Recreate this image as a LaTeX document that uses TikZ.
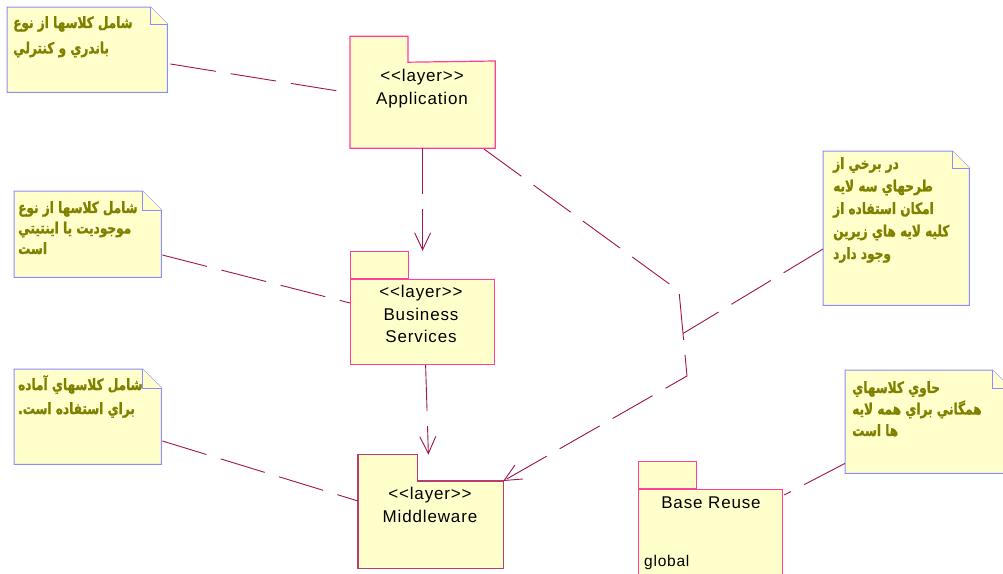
\documentclass[tikz,border=0pt]{standalone}
\usepackage{fontspec}
\setmainfont{Liberation Sans}[LetterSpace=5]
\newfontfamily\arabicfont[Script=Arabic,FakeStretch=0.78,BoldFont={DejaVu Sans Bold},BoldFeatures={FakeBold=1.2}]{DejaVu Sans}
\TeXXeTstate=1
\usetikzlibrary{arrows.meta,calc}
\definecolor{pkgfill}{RGB}{255,255,204}
\definecolor{pkgpink}{RGB}{255,64,150}
\definecolor{pkgdark}{RGB}{185,60,110}
\definecolor{linkcol}{RGB}{160,20,80}
\definecolor{noteblue}{RGB}{140,140,255}
\definecolor{noteolive}{RGB}{128,128,0}
\tikzset{
  pkgbox/.style={fill=pkgfill, draw=pkgpink, line width=1.2pt, inner sep=0pt, anchor=north west},
  pkgline/.style={fill=pkgfill, draw=pkgpink, line width=1.2pt},
  pkgtext/.style={font=\fontsize{17}{22.5}\selectfont, align=center, inner sep=0pt, text=black},
  notebox/.style={draw=none, inner sep=0pt, anchor=north west},
  noteline/.style={fill=pkgfill, draw=noteblue, line width=1pt},
  notetext/.style={font=\arabicfont\bfseries\fontsize{15.5}{22.5}\selectfont, align=left, inner sep=0pt, text=noteolive, anchor=north west},
  link/.style={draw=linkcol, line width=0.9pt, dash pattern=on 46pt off 15pt},
  dep/.style={link, -{Straight Barb[length=17pt,width=16pt,line width=0.9pt]}}
}
\newcommand\drawnote[2]{%
  \filldraw[noteline] (#1.north west) -- ([xshift=-#2pt]#1.north east) -- ([yshift=-#2pt]#1.north east) -- (#1.south east) -- (#1.south west) -- cycle;
  \draw[noteline] ([xshift=-#2pt]#1.north east) |- ([yshift=-#2pt]#1.north east);
}
\newcommand\stereo{<{}<layer>{}>}
\begin{document}
\begin{tikzpicture}[x=1pt,y=-1pt]
\useasboundingbox (0,0) rectangle (1003,573);
\clip (0,0) rectangle (1003,573);
\fill[white] (0,0) rectangle (1003,573);

% ---------- packages ----------
% Application
\node[pkgbox, draw=none, minimum width=144pt, minimum height=86pt] (app) at (350,61) {};
\draw[pkgline] (app.south west) -- ++(0,-112) -- ++(58,0) -- ++(0,26) -- (app.north east) -- (app.south east) -- cycle;
\node[pkgtext, anchor=base] (appt) at (422,104) {\stereo\\Application};

% Business Services
\node[pkgbox, minimum width=144pt, minimum height=85pt] (bs) at (350,279) {};
\node[pkgbox, anchor=south west, minimum width=58pt, minimum height=27pt] (bstab) at (bs.north west) {};
\node[pkgtext, anchor=base] (bst) at (421,342.5) {\stereo\\Business\\Services};

% Middleware
\node[pkgbox, draw=none, minimum width=144pt, minimum height=86pt] (mw) at (358,481) {};
\node[draw=none, inner sep=0pt, anchor=south west, minimum width=59pt, minimum height=26pt] (mwtab) at (mw.north west) {};
\draw[pkgline, draw=pkgdark] (mw.south west) -- (mwtab.north west) -- (mwtab.north east) -- (mwtab.south east) -- (mw.north east) -- (mw.south east) -- cycle;
\node[pkgtext, anchor=base] (mwt) at (430,522) {\stereo\\Middleware};

% Base Reuse
\node[pkgbox, minimum width=144pt, minimum height=95pt] (br) at (638,489) {};
\node[pkgbox, anchor=south west, minimum width=58pt, minimum height=27pt] (brtab) at (br.north west) {};
\node[pkgtext, anchor=base] (brt) at (711,508) {Base Reuse};
\node[pkgtext, font=\fontsize{15.5}{18}\selectfont, anchor=base west] (brg) at (644,566) {global};

% ---------- notes ----------
\node[notebox, minimum width=160pt, minimum height=85pt] (n1) at (7,7) {};
\drawnote{n1}{17}
\node[notetext, font=\arabicfont\bfseries\fontsize{15.5}{25.5}\selectfont] (n1t) at (13,16) {\beginR شامل كلاسها از نوع\endR\\\beginR باندري و كنترلي\endR};

\node[notebox, minimum width=147pt, minimum height=86pt] (n2) at (14,191) {};
\drawnote{n2}{19}
\node[notetext, font=\arabicfont\bfseries\fontsize{15.5}{20.5}\selectfont] (n2t) at (18,201) {\beginR شامل كلاسها از نوع\endR\\\beginR موجوديت يا اينتيتي\endR\\\beginR است\endR};

\node[notebox, minimum width=147pt, minimum height=95pt] (n3) at (14,369) {};
\drawnote{n3}{19}
\node[notetext, font=\arabicfont\bfseries\fontsize{15.5}{24}\selectfont] (n3t) at (18,375) {\beginR شامل كلاسهاي آماده\endR\\\beginR براي استفاده است.\endR};

\node[notebox, minimum width=146pt, minimum height=154pt] (n4) at (823,151) {};
\drawnote{n4}{17}
\node[notetext] (n4t) at (833,157) {\beginR در برخي از\endR\\\beginR طرحهاي سه لايه\endR\\\beginR امكان استفاده از\endR\\\beginR كليه لايه هاي زيرين\endR\\\beginR وجود دارد\endR};

\node[notebox, minimum width=165pt, minimum height=103pt] (n5) at (845,370) {};
\drawnote{n5}{18}
\node[notetext, font=\arabicfont\bfseries\fontsize{15.5}{21.5}\selectfont] (n5t) at (852,381) {\beginR حاوي كلاسهاي\endR\\\beginR همگاني براي همه لايه\endR\\\beginR ها است\endR};

% ---------- connectors ----------
\coordinate (b1) at (679,291);
\coordinate (b2) at (687,376);
\coordinate (bj) at ($(b1)!0.5!(b2)$);

\draw[link] ([xshift=3pt,yshift=-57pt]n1.north east) -- ([xshift=-12pt,yshift=-30pt]app.north west);
\draw[link] ([xshift=1pt,yshift=-64pt]n2.north east) -- ([yshift=-24pt]bs.north west);
\draw[link] ([xshift=1pt,yshift=-72pt]n3.north east) -- ([yshift=-20pt]mw.north west);
\draw[link] ([yshift=-98pt]n4.north west) -- (bj);
\draw[link] ([yshift=10pt]n5.south west) -- ([xshift=1pt,yshift=-6pt]br.north east);

\draw[dep] (app.south) -- (app.south |- bstab.north);
\draw[dep] ([xshift=3pt]bs.south) -- ([xshift=11pt]mwtab.north east);
\draw[dep] ([xshift=-11pt,yshift=-1pt]app.south east) -- (b1) -- (b2) -- (mw.north east);
\end{tikzpicture}
\end{document}
